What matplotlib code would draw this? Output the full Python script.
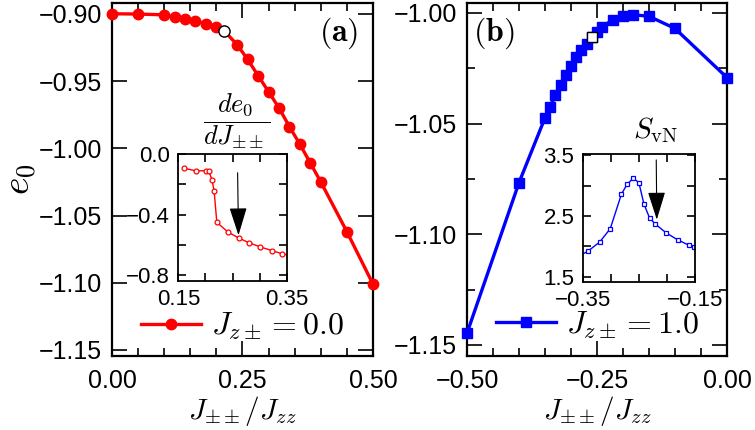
import numpy as np
import matplotlib
matplotlib.use("Agg")
import matplotlib.pyplot as plt
from matplotlib.ticker import MultipleLocator, FixedLocator, FuncFormatter

plt.rcParams['font.family'] = ['Liberation Sans', 'DejaVu Sans']
plt.rcParams['mathtext.fontset'] = 'cm'

# panel (a): J_z+- = 0.0
ja = [0.0, 0.05, 0.10, 0.12, 0.14, 0.16, 0.18, 0.20, 0.215, 0.24, 0.26, 0.28,
      0.30, 0.32, 0.34, 0.36, 0.38, 0.40, 0.45, 0.50]
ea = [-0.9000, -0.9002, -0.9008, -0.9025, -0.9037, -0.9052, -0.9075, -0.9099,
      -0.9127, -0.9231, -0.9340, -0.9460, -0.9580, -0.9700, -0.9840, -0.9970,
      -1.0110, -1.0250, -1.0620, -1.1010]
ja_open = [0.215]
ea_open = [-0.9127]

# inset (a): de0/dJ
da_x = [0.161, 0.182, 0.201, 0.206, 0.212, 0.216, 0.221, 0.241, 0.261, 0.281,
        0.301, 0.322, 0.342, 0.362]
da_y = [-0.094, -0.111, -0.111, -0.111, -0.170, -0.243, -0.450, -0.513, -0.553,
        -0.586, -0.612, -0.636, -0.658, -0.675]

# panel (b): J_z+- = 1.0
jb = [-0.50, -0.40, -0.35, -0.34, -0.33, -0.32, -0.31, -0.30, -0.29, -0.28,
      -0.27, -0.26, -0.25, -0.24, -0.22, -0.20, -0.18, -0.15, -0.10, 0.00]
eb = [-1.1447, -1.0767, -1.0474, -1.0424, -1.0371, -1.0326, -1.0282, -1.0240,
      -1.0201, -1.0168, -1.0138, -1.0110, -1.0085, -1.0065, -1.0030, -1.0012,
      -1.0008, -1.0015, -1.0070, -1.0292]
jb_open = [-0.26]
eb_open = [-1.0110]

# inset (b): S_vN
sb_x = [-0.361, -0.341, -0.320, -0.301, -0.281, -0.271, -0.260, -0.250, -0.241,
        -0.231, -0.221, -0.201, -0.181, -0.161, -0.151]
sb_y = [1.82, 1.92, 2.07, 2.29, 2.86, 3.02, 3.12, 3.05, 2.70, 2.47, 2.37, 2.22,
        2.11, 2.02, 1.99]

# tick values
ina_xticks = [0.15, 0.35]
ina_yticks = [0.0, -0.4, -0.8]
inb_xticks = [-0.35, -0.15]
inb_yticks = [1.5, 2.5, 3.5]


def fmt(nd):
    return FuncFormatter(lambda v, p: f'{v:.{nd}f}'.replace('-', '\u2212'))


fig = plt.figure(figsize=(7.55, 4.3), dpi=100)
axa = fig.add_axes([0.1483, 0.172, 0.3457, 0.821])
axb = fig.add_axes([0.6185, 0.172, 0.3444, 0.821])
ina = fig.add_axes([0.2362, 0.3472, 0.1436, 0.2947])
inb = fig.add_axes([0.7718, 0.3449, 0.1487, 0.2970])


def style(ax, size, major, minor, lw, pad):
    ax.tick_params(which='both', direction='in', top=True, right=True,
                   labelsize=size, pad=pad, width=1.2)
    ax.tick_params(which='major', length=major)
    ax.tick_params(which='minor', length=minor)
    for s in ax.spines.values():
        s.set_linewidth(lw)


arrow = dict(arrowstyle='-|>,head_length=0.8,head_width=0.25',
             color='black', lw=0.8, shrinkB=0, mutation_scale=22)

# main (a)
axa.plot(ja, ea, '-o', color='red', lw=2.4, ms=7.5, clip_on=False, zorder=3,
         label=r'$J_{z\pm} = 0.0$')
axa.plot(ja_open, ea_open, 'o', mfc='white', mec='black', mew=1.0, ms=8,
         clip_on=False, zorder=4)
axa.set_xlim(0, 0.5)
axa.set_ylim(-1.1545, -0.892)
axa.xaxis.set_major_locator(MultipleLocator(0.25))
axa.xaxis.set_minor_locator(MultipleLocator(0.05))
axa.yaxis.set_major_locator(MultipleLocator(0.05))
axa.xaxis.set_major_formatter(fmt(2))
axa.yaxis.set_major_formatter(fmt(2))
style(axa, 18, 11, 6, 1.6, 7)
axa.tick_params(axis='x', pad=9)
axa.set_xlabel(r'$J_{\pm\pm}/J_{zz}$', fontsize=21, labelpad=1)
axa.set_ylabel(r'$e_0$', fontsize=27)
axa.yaxis.set_label_coords(-0.28, 0.5)
axa.text(0.87, 0.915, r'$(\mathbf{a})$', transform=axa.transAxes,
         fontsize=23, ha='center', va='center')
axa.legend(loc='center left', bbox_to_anchor=(0.11, 0.083), frameon=False,
           fontsize=23, handlelength=1.9, handletextpad=0.3, borderpad=0,
           borderaxespad=0)

# main (b)
axb.plot(jb, eb, '-s', color='blue', lw=2.4, ms=6.5, clip_on=False, zorder=3,
         label=r'$J_{z\pm} = 1.0$')
axb.plot(jb_open, eb_open, 's', mfc='white', mec='black', mew=1.0, ms=7.5,
         clip_on=False, zorder=4)
axb.set_xlim(-0.5, 0)
axb.set_ylim(-1.155, -0.9955)
axb.xaxis.set_major_locator(MultipleLocator(0.25))
axb.xaxis.set_minor_locator(MultipleLocator(0.05))
axb.yaxis.set_major_locator(MultipleLocator(0.05))
axb.yaxis.set_minor_locator(MultipleLocator(0.025))
axb.xaxis.set_major_formatter(fmt(2))
axb.yaxis.set_major_formatter(fmt(2))
style(axb, 18, 11, 6, 1.6, 7)
axb.tick_params(axis='x', pad=9)
axb.set_xlabel(r'$J_{\pm\pm}/J_{zz}$', fontsize=21, labelpad=1)
axb.text(0.104, 0.915, r'$(\mathbf{b})$', transform=axb.transAxes,
         fontsize=23, ha='center', va='center')
axb.legend(loc='center left', bbox_to_anchor=(0.11, 0.087), frameon=False,
           fontsize=23, handlelength=1.9, handletextpad=0.3, borderpad=0,
           borderaxespad=0)

# inset (a)
ina.plot(da_x, da_y, '-o', color='red', lw=1.0, ms=3.5, mfc='white', mew=0.9)
ina.set_xlim(0.15, 0.35)
ina.set_ylim(-0.835, 0.0)
ina.xaxis.set_major_locator(FixedLocator(ina_xticks))
ina.xaxis.set_minor_locator(MultipleLocator(0.05))
ina.yaxis.set_major_locator(FixedLocator(ina_yticks))
ina.yaxis.set_minor_locator(MultipleLocator(0.2))
ina.xaxis.set_major_formatter(fmt(2))
ina.yaxis.set_major_formatter(fmt(1))
style(ina, 16, 6, 6, 1.3, 6)
ina.annotate(r'$\dfrac{de_0}{dJ_{\pm\pm}}$', xy=(0.261, -0.536),
             xytext=(0.258, 0.22), textcoords='data', ha='center', va='center',
             fontsize=19, annotation_clip=False,
             arrowprops=dict(arrow, shrinkA=14))

# inset (b)
inb.plot(sb_x, sb_y, '-s', color='blue', lw=1.0, ms=3.5, mfc='white', mew=0.9)
inb.set_xlim(-0.35, -0.15)
inb.set_ylim(1.42, 3.52)
inb.xaxis.set_major_locator(FixedLocator(inb_xticks))
inb.xaxis.set_minor_locator(MultipleLocator(0.05))
inb.yaxis.set_major_locator(FixedLocator(inb_yticks))
inb.yaxis.set_minor_locator(MultipleLocator(0.5))
inb.xaxis.set_major_formatter(fmt(2))
inb.yaxis.set_major_formatter(fmt(1))
style(inb, 16, 6, 6, 1.3, 6)
inb.annotate(r'$S_{\rm vN}$', xy=(-0.218, 2.44), xytext=(-0.2195, 3.92),
             textcoords='data', ha='center', va='center', fontsize=21,
             annotation_clip=False,
             arrowprops=dict(arrow, shrinkA=9))

fig.savefig('out.png', dpi=100)
